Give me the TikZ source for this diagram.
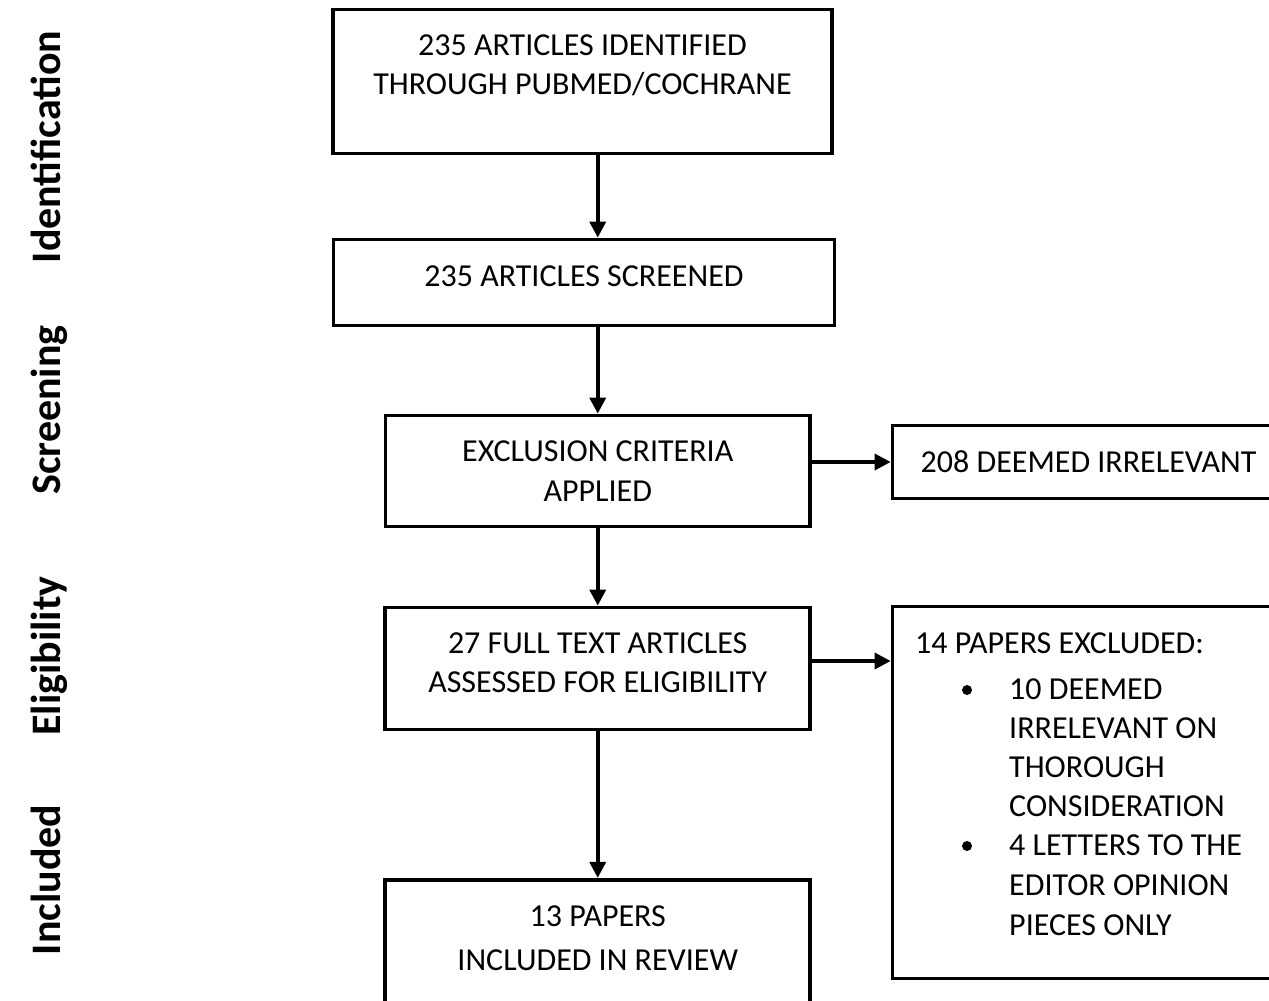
\documentclass[tikz,border=0pt]{standalone}
\usepackage{fontspec}
\setmainfont{Carlito}
\usetikzlibrary{arrows.meta}
\tikzset{
  box/.style={draw, line width=3.7pt, rectangle, inner sep=0pt},
  conn/.style={line width=3.5pt, -{Triangle[length=16pt,width=16pt]}},
  txt/.style={anchor=base, inner sep=0pt, font=\fontsize{32}{40}\selectfont},
  ltxt/.style={anchor=base west, inner sep=0pt, font=\fontsize{32}{40}\selectfont},
  phase/.style={rotate=90, anchor=base, inner sep=0pt, font=\fontsize{42}{50}\selectfont\bfseries},
  bul/.style={circle, fill, inner sep=0pt, minimum size=10pt}
}
\begin{document}
\begin{tikzpicture}[x=1pt,y=-1pt]
\fill[white] (0,0) rectangle (1269,1001);
\useasboundingbox (0,0) rectangle (1269,1001);

% phase labels
\node[phase] (pid) at (60,147) {Identification};
\node[phase] (psc) at (60,410) {Screening};
\node[phase] (pel) at (60,656) {Eligibility};
\node[phase] (pin) at (60,880) {Included};

% boxes
\node[box, minimum width=499pt, minimum height=144pt] (b1) at (582.5,81.5) {};
\node[box, minimum width=501pt, minimum height=86pt] (b2) at (584,282.5) {};
\node[box, minimum width=424.5pt, minimum height=111pt] (b3) at (597.75,471) {};
\node[box, minimum width=425pt, minimum height=122pt] (b4) at (597.75,668.5) {};
\node[box, minimum width=425pt, minimum height=150pt] (b5) at (597.75,954.75) {};
\node[box, minimum width=407.5pt, minimum height=73pt] (b6) at (1096.25,462) {};
\node[box, minimum width=407.5pt, minimum height=372pt] (b7) at (1096.25,792.5) {};

% texts
\node[txt] (t1a) at (582.5,55) {235 ARTICLES IDENTIFIED};
\node[txt] (t1b) at (582.5,94) {THROUGH PUBMED/COCHRANE};
\node[txt] (t2) at (584,286) {235 ARTICLES SCREENED};
\node[txt] (t3a) at (597.75,461) {EXCLUSION CRITERIA};
\node[txt] (t3b) at (597.75,501) {APPLIED};
\node[txt] (t4a) at (597.75,653) {27 FULL TEXT ARTICLES};
\node[txt] (t4b) at (597.75,692) {ASSESSED FOR ELIGIBILITY};
\node[txt] (t5a) at (597.75,926) {13 PAPERS};
\node[txt] (t5b) at (597.75,970) {INCLUDED IN REVIEW};
\node[ltxt] (t6) at (920.5,472) {208 DEEMED IRRELEVANT};
\node[ltxt] (t7) at (915,653) {14 PAPERS EXCLUDED:};
\node[bul] (u1) at (967,690) {};
\node[ltxt] (t7a) at (1009,699) {10 DEEMED};
\node[ltxt] (t7b) at (1009,738) {IRRELEVANT ON};
\node[ltxt] (t7c) at (1009,777) {THOROUGH};
\node[ltxt] (t7d) at (1009,816) {CONSIDERATION};
\node[bul] (u2) at (967,846) {};
\node[ltxt] (t7e) at (1009,855) {4 LETTERS TO THE};
\node[ltxt] (t7f) at (1009,895) {EDITOR OPINION};
\node[ltxt] (t7g) at (1009,935) {PIECES ONLY};

% connectors
\coordinate (r4) at (0,661);
\draw[conn] (b1.south -| b3.north) -- (b2.north -| b3.north);
\draw[conn] (b2.south -| b3.north) -- (b3.north);
\draw[conn] (b3.south) -- (b4.north);
\draw[conn] (b4.south) -- (b5.north);
\draw[conn] (b3.east |- b6.west) -- (b6.west);
\draw[conn] (b4.east |- r4) -- (b7.west |- r4);
\end{tikzpicture}
\end{document}
